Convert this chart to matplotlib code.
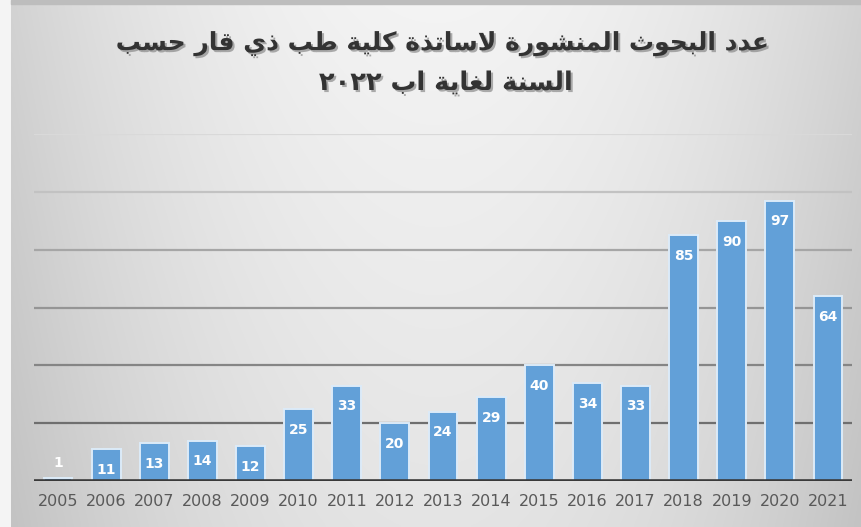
import re
import numpy as np
import matplotlib
matplotlib.use("Agg")
import matplotlib.pyplot as plt
import matplotlib.patheffects as pe

# ---------------- data ----------------
years = ["2005", "2006", "2007", "2008", "2009", "2010", "2011", "2012", "2013",
         "2014", "2015", "2016", "2017", "2018", "2019", "2020", "2021"]
counts = [1, 11, 13, 14, 12, 25, 33, 20, 24, 29, 40, 34, 33, 85, 90, 97, 64]
title_lines = ["عدد البحوث المنشورة لاساتذة كلية طب ذي قار حسب",
               "السنة لغاية اب ٢٠٢٢"]
y_max = 120
grid_values = [20, 40, 60, 80, 100, 120]

# ---------------- simple Arabic shaping (presentation forms) ----------------
_DUAL = {'ب': 0xFE8F, 'ت': 0xFE95, 'ث': 0xFE99, 'ج': 0xFE9D, 'ح': 0xFEA1, 'خ': 0xFEA5,
         'س': 0xFEB1, 'ش': 0xFEB5, 'ص': 0xFEB9, 'ض': 0xFEBD, 'ط': 0xFEC1, 'ظ': 0xFEC5,
         'ع': 0xFEC9, 'غ': 0xFECD, 'ف': 0xFED1, 'ق': 0xFED5, 'ك': 0xFED9, 'ل': 0xFEDD,
         'م': 0xFEE1, 'ن': 0xFEE5, 'ه': 0xFEE9, 'ي': 0xFEF1}
_RIGHT = {'ا': 0xFE8D, 'ة': 0xFE93, 'د': 0xFEA9, 'ذ': 0xFEAB, 'ر': 0xFEAD, 'ز': 0xFEAF,
          'و': 0xFEED, 'ى': 0xFEEF}
_LAMALEF = (0xFEFB, 0xFEFC)


def shape_arabic(text):
    chars = list(text)
    units = []
    i = 0
    while i < len(chars):
        if chars[i] == 'ل' and i + 1 < len(chars) and chars[i + 1] == 'ا':
            units.append('LA')
            i += 2
        else:
            units.append(chars[i])
            i += 1

    def is_ar(u):
        return u == 'LA' or u in _DUAL or u in _RIGHT

    def joins_next(u):
        return u in _DUAL

    out = []
    for k, u in enumerate(units):
        prev = units[k - 1] if k > 0 else None
        nxt = units[k + 1] if k + 1 < len(units) else None
        jp = prev is not None and joins_next(prev)
        if u == 'LA':
            out.append(chr(_LAMALEF[1] if jp else _LAMALEF[0]))
        elif u in _DUAL:
            jn = nxt is not None and is_ar(nxt)
            off = (3 if jn else 1) if jp else (2 if jn else 0)
            out.append(chr(_DUAL[u] + off))
        elif u in _RIGHT:
            out.append(chr(_RIGHT[u] + (1 if jp else 0)))
        else:
            out.append(u)
    vis = ''.join(out)[::-1]
    vis = re.sub(r'[0-9\u0660-\u0669]+', lambda m: m.group(0)[::-1], vis)
    return vis


# ---------------- figure ----------------
W, H, DPI = 861, 527, 100
fig = plt.figure(figsize=(W / DPI, H / DPI), dpi=DPI)
fig.patch.set_facecolor('#f4f4f4')

# background gradient
bg = fig.add_axes([11 / W, 0, 1 - 11 / W, 1 - 4 / H], zorder=-5)
X, Y = np.meshgrid(np.linspace(0, 1, 300), np.linspace(0, 1, 200))
dx = (X - 0.5) / 0.5
v = 0.955 - 0.13 * dx ** 2 - 0.06 * Y
img = np.dstack([v, v, v])
bg.imshow(img, aspect='auto', extent=[0, 1, 1, 0], interpolation='bilinear')
bg.set_axis_off()
fig.patches.append(plt.Rectangle((11 / W, 1 - 4 / H), 1, 4 / H, transform=fig.transFigure,
                                 color='#bdbdbd', zorder=-4))

ax = fig.add_axes([34 / W, 46 / H, 818 / W, 347 / H])
ax.set_facecolor('none')
x = np.arange(len(years))

grid_colors = ['#6f6f6f', '#858585', '#959595', '#a6a6a6', '#c2c2c2', '#d9d9d9']
for gv, gc in zip(grid_values, grid_colors):
    ax.axhline(gv, color=gc, lw=1.6, zorder=1)

bars = ax.bar(x, counts, width=0.6, color='#62a0d8', edgecolor='#dcebf8',
              linewidth=1.4, zorder=2)
ax.axhline(0, color='#3a3a3a', lw=2.6, zorder=3)

ax.set_xlim(-0.5, len(years) - 0.5)
ax.set_ylim(0, y_max)
ax.set_xticks(x)
ax.set_xticklabels(years, fontsize=11.5, color='#595959')
ax.tick_params(axis='x', length=0, pad=9)
ax.set_yticks([])
for s in ax.spines.values():
    s.set_visible(False)

px_per_unit = 347 / y_max
for xi, c in zip(x, counts):
    if c * px_per_unit < 28:
        ax.annotate(str(c), (xi, c), xytext=(0, 11), textcoords='offset points',
                    ha='center', va='center', color='white', fontsize=10,
                    fontweight='bold', zorder=4)
    else:
        ax.annotate(str(c), (xi, c), xytext=(0, -15), textcoords='offset points',
                    ha='center', va='center', color='white', fontsize=10,
                    fontweight='bold', zorder=4)

shadow = [pe.SimplePatchShadow(offset=(1.5, -1.5), shadow_rgbFace='#7a7a7a', alpha=0.6),
          pe.Normal()]
fig.text(443 / W, 1 - 44 / H, shape_arabic(title_lines[0]), ha='center', va='center',
         fontsize=18, fontweight='bold', color='#333333', family='DejaVu Sans',
         path_effects=shadow)
fig.text(446 / W, 1 - 83 / H, shape_arabic(title_lines[1]), ha='center', va='center',
         fontsize=18.5, fontweight='bold', color='#333333', family='DejaVu Sans',
         path_effects=shadow)

fig.savefig('out.png', dpi=DPI)
